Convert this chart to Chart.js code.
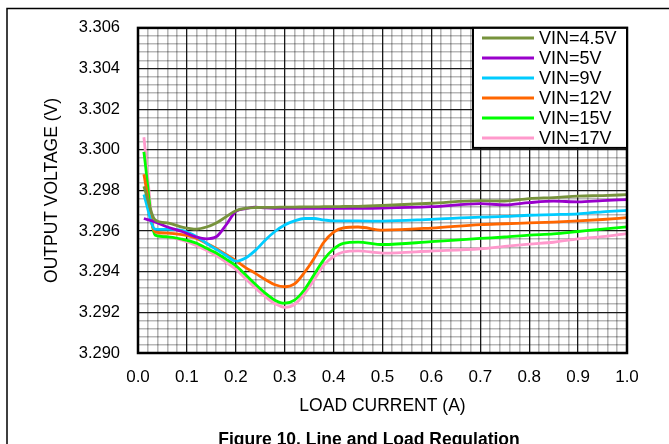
<!DOCTYPE html>
<html lang="en">
  <head>
    <meta charset="UTF-8" />
    <title>Line and Load Regulation</title>
    <script src="https://cdn.jsdelivr.net/npm/chart.js"></script>
    <style>
      body { margin: 0; background: #fff; }
    </style>
  </head>
  <body>
    <canvas id="regChart" width="669" height="444"></canvas>
    <script>
      // load current (A) shared by every curve
      const loadCurrent = [0.012, 0.035, 0.06, 0.09, 0.12, 0.14, 0.16, 0.18, 0.2, 0.22, 0.24, 0.26, 0.28, 0.3, 0.32,
        0.34, 0.36, 0.38, 0.4, 0.42, 0.45, 0.5, 0.6, 0.7, 0.75, 0.8, 0.85, 0.9, 0.95, 1.0];

      const vin4p5 = [3.2982, 3.29655, 3.2964, 3.2962, 3.2961, 3.2962, 3.2964, 3.2967, 3.2970, 3.29712, 3.29716,
        3.29717, 3.29717, 3.29718, 3.29718, 3.29719, 3.29719, 3.2972, 3.2972, 3.29721, 3.29722, 3.29726, 3.29737,
        3.2975, 3.29748, 3.2976, 3.29765, 3.29772, 3.29775, 3.29779];
      const vin5 = [3.29662, 3.29645, 3.2962, 3.29598, 3.2957, 3.29562, 3.29572, 3.2963, 3.29697, 3.2971, 3.29718,
        3.29714, 3.29712, 3.29712, 3.29712, 3.29712, 3.29712, 3.29712, 3.29712, 3.29712, 3.29712, 3.29713, 3.2972,
        3.29735, 3.29729, 3.2974, 3.29747, 3.29744, 3.2975, 3.29755];
      const vin9 = [3.2978, 3.2961, 3.29608, 3.29603, 3.29572, 3.2954, 3.2951, 3.2948, 3.29452, 3.29468, 3.29505,
        3.29555, 3.29598, 3.2963, 3.2965, 3.29662, 3.29662, 3.29655, 3.2965, 3.2965, 3.2965, 3.29649, 3.29658,
        3.29669, 3.29672, 3.29678, 3.29681, 3.29685, 3.29695, 3.29702];
      const vin12 = [3.2988, 3.29596, 3.2959, 3.29582, 3.29564, 3.2954, 3.29515, 3.29485, 3.29455, 3.2942, 3.29392,
        3.29362, 3.29336, 3.29326, 3.2934, 3.29395, 3.29465, 3.29545, 3.29595, 3.29616, 3.2962, 3.29605, 3.29615,
        3.29632, 3.29636, 3.2964, 3.29644, 3.2965, 3.29657, 3.29666];
      const vin15 = [3.2999, 3.2958, 3.29572, 3.2956, 3.2954, 3.29515, 3.29492, 3.29462, 3.2943, 3.29385, 3.29338,
        3.29295, 3.2926, 3.29245, 3.2926, 3.2931, 3.29385, 3.2946, 3.29512, 3.2954, 3.29546, 3.29534, 3.29548,
        3.29564, 3.29571, 3.2958, 3.29586, 3.29598, 3.2961, 3.29621];
      const vin17 = [3.30062, 3.29588, 3.29572, 3.29555, 3.29528, 3.29505, 3.2948, 3.29447, 3.29412, 3.29365, 3.2932,
        3.29278, 3.29243, 3.29225, 3.29238, 3.2929, 3.2936, 3.29432, 3.29475, 3.29497, 3.29503, 3.29492, 3.29502,
        3.29513, 3.29525, 3.29536, 3.29545, 3.29562, 3.29573, 3.29588];

      const seriesLabels = ['VIN=4.5V', 'VIN=5V', 'VIN=9V', 'VIN=12V', 'VIN=15V', 'VIN=17V'];
      const seriesColors = ['#77933C', '#9900CC', '#00CCFF', '#FF6600', '#00FF00', '#FF99CC'];
      const seriesValues = [vin4p5, vin5, vin9, vin12, vin15, vin17];

      const xTickLabels = ['0.0', '0.1', '0.2', '0.3', '0.4', '0.5', '0.6', '0.7', '0.8', '0.9', '1.0'];
      const yTickLabels = ['3.290', '3.292', '3.294', '3.296', '3.298', '3.300', '3.302', '3.304', '3.306'];

      const FONT = 'Arial, "Liberation Sans", sans-serif';

      const isMajor = (v, per) => Math.abs(v * per - Math.round(v * per)) < 1e-6;
      const gridColor = (per) => (ctx) => isMajor(ctx.tick.value, per) ? '#1a1a1a' : 'rgba(0,0,0,0.28)';
      const gridWidth = (per) => (ctx) => isMajor(ctx.tick.value, per) ? 1.3 : 1.6;

      const datasets = seriesLabels.map((label, i) => ({
        label: label,
        data: loadCurrent.map((x, j) => ({ x: x, y: seriesValues[i][j] })),
        borderColor: seriesColors[i],
        backgroundColor: seriesColors[i],
        borderWidth: 2.8,
        pointRadius: 0,
        cubicInterpolationMode: 'monotone',
        fill: false,
      }));

      // page frame, plot box, legend and caption
      const decorations = {
        id: 'decorations',
        beforeDraw: (chart) => {
          const ctx = chart.ctx;
          ctx.save();
          ctx.fillStyle = '#fff';
          ctx.fillRect(0, 0, chart.width, chart.height);
          ctx.strokeStyle = '#000';
          ctx.lineWidth = 1.5;
          ctx.beginPath();
          ctx.moveTo(7, 444);
          ctx.lineTo(7, 8.5);
          ctx.lineTo(669, 8.5);
          ctx.stroke();
          ctx.restore();
        },
        afterDraw: (chart) => {
          const ctx = chart.ctx;
          const a = chart.chartArea;
          ctx.save();
          ctx.strokeStyle = '#000';
          ctx.lineWidth = 2.5;
          ctx.strokeRect(a.left, a.top, a.right - a.left, a.bottom - a.top);

          // legend box in the top right corner of the plot
          const lx = 473, ly = a.top, lw = a.right - 473, lh = 120;
          ctx.fillStyle = '#fff';
          ctx.fillRect(lx, ly, lw, lh);
          ctx.lineWidth = 2;
          ctx.strokeRect(lx, ly, lw, lh);
          ctx.font = '18px ' + FONT;
          ctx.textBaseline = 'middle';
          chart.data.datasets.forEach((ds, i) => {
            const y = ly + 10 + i * 20;
            ctx.strokeStyle = ds.borderColor;
            ctx.lineWidth = 3;
            ctx.beginPath();
            ctx.moveTo(482, y);
            ctx.lineTo(534, y);
            ctx.stroke();
            ctx.fillStyle = '#000';
            ctx.fillText(ds.label, 539, y + 1);
          });

          ctx.font = 'bold 17.5px ' + FONT;
          ctx.textAlign = 'center';
          ctx.fillStyle = '#000';
          ctx.fillText('Figure 10. Line and Load Regulation', 369, 440);
          ctx.restore();
        },
      };

      new Chart(document.getElementById('regChart'), {
        type: 'line',
        data: { datasets: datasets },
        options: {
          responsive: false,
          animation: false,
          layout: { padding: { left: 0, top: 23, right: 42, bottom: 0 } },
          plugins: { legend: { display: false }, tooltip: { enabled: false } },
          scales: {
            x: {
              type: 'linear',
              min: 0,
              max: 1,
              afterFit: (scale) => { scale.height = 91; },
              ticks: {
                stepSize: 0.02,
                autoSkip: false,
                maxRotation: 0,
                padding: 14,
                color: '#000',
                font: { family: FONT, size: 17 },
                callback: (v) => isMajor(v, 10) ? xTickLabels[Math.round(v * 10)] : '',
              },
              grid: { drawTicks: false, color: gridColor(10), lineWidth: gridWidth(10) },
              border: { display: false },
              title: {
                display: true,
                text: 'LOAD CURRENT (A)',
                color: '#000',
                font: { family: FONT, size: 17.5 },
                padding: { top: 0, bottom: 27 },
              },
            },
            y: {
              min: 3.29,
              max: 3.306,
              afterFit: (scale) => { scale.width = 138; },
              ticks: {
                stepSize: 0.0004,
                autoSkip: false,
                padding: 18,
                color: '#000',
                font: { family: FONT, size: 16.5 },
                callback: (v) => isMajor(v, 500) ? yTickLabels[Math.round((v - 3.29) * 500)] : '',
              },
              grid: { drawTicks: false, color: gridColor(500), lineWidth: gridWidth(500) },
              border: { display: false },
              title: {
                display: true,
                text: 'OUTPUT VOLTAGE (V)',
                color: '#000',
                font: { family: FONT, size: 17.5 },
                padding: { top: 42, bottom: 0 },
              },
            },
          },
        },
        plugins: [decorations],
      });
    </script>
  </body>
</html>
